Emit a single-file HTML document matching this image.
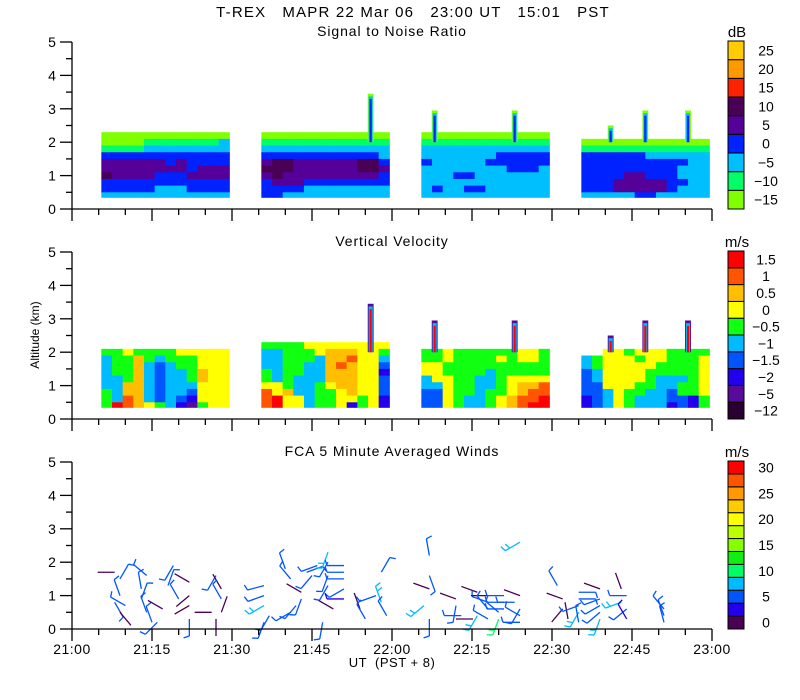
<!DOCTYPE html>
<html><head><meta charset="utf-8"><style>
body{margin:0;background:#fff;}
svg{display:block;font-family:"Liberation Sans",sans-serif;}
text{white-space:pre;}
</style></head><body>
<svg id="c" width="800" height="700" viewBox="0 0 800 700"></svg>
<script>
// ---- data ----
const xTickLabels=["21:00","21:15","21:30","21:45","22:00","22:15","22:30","22:45","23:00"];
const segStarts=[5.5,35.5,65.5,95.5];
const rowCenters=[2.2,2.0,1.8,1.6,1.4,1.2,1.0,0.8,0.6,0.4];
const snrLabels=["25","20","15","10","5","0","-5","-10","-15"];
const snrColors=["#7fff00","#00ff66","#00bfff","#0022ff","#550099","#4a0055","#ff2200","#ff9900","#ffcc00"];
const velLabels=["1.5","1","0.5","0","-0.5","-1","-1.5","-2","-5","-12"];
const velColors=["#2a0030","#5a0a9a","#2200ee","#0055ff","#00bbff","#11ff11","#ffff00","#ffbf00","#ff5500","#ff0000"];
const windLabels=["30","25","20","15","10","5","0"];
const windColors=["#4a0055","#2200ee","#0055ff","#00bbff","#00ff66","#11ee11","#88ff00","#bbff00","#ffff00","#ffcc00","#ff9900","#ff5500","#ff0000"];
const snrSeg1=["000000000000","000011111112","111122222222","333333333333","444444343333","444444443444","544443334444","333333333333","333332223333","222222222222"];
const snrSeg2=["000000000000","111111111111","222222222222","333333333332","455444444553","555444444554","454444444443","344433333333","333322222222","332222222222"];
const snrSeg3=["000000000000","111111111111","222222222222","222222233333","322222333333","222222223332","222332222222","222222222222","232233222222","222222222222"];
const snrSeg4=["............","000000000000","111111111111","333333222222","333333333322","333333333222","333344333222","333444443322","333444443222","222223322222"];
const velSeg1=["............","556555566666","455754555666","455743455666","455743445766","445743445766","447743444666","547743443666","548743432666","598765421566"];
const velSeg2=["555566666666","445556777665","445554778664","445544787663","545544777662","545444777663","665445677663","867445567663","896645566562","896645562562"];
const velSeg3=["............","556555555665","556555565665","665555555555","665555455555","466554456666","446554456778","336554556788","336544567889","336544567899"];
const velSeg4=["............","..6656665555","456665665556","456666655556","346666555556","346666544456","336665544556","334655443556","234654443325","234654442325"];
const spikeTimes=[56,68,83,101,107.5,115.5];
const spikeTops=[3.45,2.95,2.95,2.5,2.95,2.95];
const barbT=[8,9,9,8,10,9,14,13,13,14,15,19,18,20,17,16,22,22,22,23,22,27,28,28,28,27,36,36,36,37,36,40,41,43,42,41,44,45,46,43,48,48,48,48,49,47,51,51,51,51,51,54,55,58,57,58,59,67,67,67,66,67,72,72,73,72,76,78,78,78,76,78,81,81,81,80,80,84,84,83,84,84,84,91,92,92,93,95,95,95,95,95,99,99,99,99,99,103,104,103,104,104,111,111,111];
const barbA=[1.7,1.5,1.0,0.8,0.7,0.5,1.6,1.2,0.9,0.5,0.2,1.9,1.3,0.9,0.6,0.2,1.4,1.0,0.7,0.5,0.3,1.6,1.2,0.9,0.5,0.3,1.3,1.0,0.7,0.4,0.2,1.8,1.5,1.1,0.7,0.5,1.7,1.6,1.9,0.9,2.3,2.0,1.6,1.3,0.6,0.2,1.9,1.7,1.5,1.2,0.9,0.6,0.3,1.7,1.0,0.8,0.4,2.2,1.6,1.2,0.7,0.3,0.9,0.7,0.4,0.3,1.1,0.8,1.0,0.6,0.4,0.3,1.0,0.8,0.6,0.5,0.3,2.6,1.0,0.8,0.6,0.4,0.2,1.3,0.9,0.6,0.3,1.1,0.9,0.7,0.5,0.2,1.2,0.9,0.7,0.5,0.3,1.2,1.0,0.8,0.6,0.3,0.6,0.4,0.2];
const barbDir=[270,30,340,150,300,140,310,350,20,340,340,210,20,330,300,225,300,230,240,90,180,210,330,330,20,180,255,250,240,210,200,340,320,300,220,240,70,220,250,200,200,210,200,210,300,190,270,270,270,240,270,340,330,30,250,340,330,350,160,290,230,180,290,190,270,90,290,290,270,320,210,300,270,270,270,310,200,240,290,270,210,300,270,330,290,220,350,90,90,250,210,350,290,250,240,230,200,340,270,250,230,330,320,340,345];
const barbSpd=[2,5,5,5,6,2,6,5,5,5,6,6,5,5,2,5,2,2,2,2,5,5,2,5,2,2,6,6,9,5,5,5,6,2,5,5,6,6,6,5,8,6,6,5,2,5,5,5,5,5,3,2,5,5,5,8,5,5,5,2,8,5,2,5,5,2,2,5,2,5,8,5,5,5,5,5,12,8,2,5,5,5,5,5,2,2,2,5,5,5,8,5,2,5,5,5,8,2,5,9,5,3,5,5,5];

// ---- helpers ----
const svg=document.getElementById('c');
const NS="http://www.w3.org/2000/svg";
function mk(tag,attrs,parent){const e=document.createElementNS(NS,tag);for(const k in attrs)e.setAttribute(k,attrs[k]);(parent||svg).appendChild(e);return e;}
const X0=72,X1=712;
function xs(m){return X0+(X1-X0)*m/120;}
const panelBase=[209,419,629];
function ys(p,a){return panelBase[p]-a*33.4;}

mk('text',{x:413,y:17,'text-anchor':'middle','font-size':15,'letter-spacing':'1.2',fill:'#000',}).textContent="T-REX   MAPR 22 Mar 06   23:00 UT   15:01   PST";
const ptitles=["Signal to Noise Ratio","Vertical Velocity","FCA 5 Minute Averaged Winds"];
const pnames=["snr-panel-title","velocity-panel-title","winds-panel-title"];

function drawGrid(p,segs,colors,name){
  const g=mk('g',{});
  segs.forEach((seg,si)=>{
    seg.forEach((row,ri)=>{
      const h=rowCenters[ri];
      let lo=h-0.1,hi=h+0.1; if(ri===rowCenters.length-1)lo=0.35;
      for(let ci=0;ci<row.length;ci++){
        const ch=row[ci]; if(ch==='.')continue;
        const t0=segStarts[si]+ci*2;
        const r=mk('rect',{x:xs(t0),y:ys(p,hi),width:xs(t0+2)-xs(t0)+0.5,height:ys(p,lo)-ys(p,hi)+0.5,fill:colors[+ch]},g);
        
        
      }
    });
  });
  return g;
}
function drawSpikes(p,cols,name){
  const g=mk('g',{});
  spikeTimes.forEach((t,i)=>{
    const top=spikeTops[i];
    cols.forEach((c,k)=>{
      const w=1.1-k*0.35;
      const r=mk('rect',{x:xs(t-w/2),y:ys(p,top-k*0.08),width:xs(t+w/2)-xs(t-w/2),height:ys(p,2.0)-ys(p,top-k*0.08),fill:c},g);
      
      
    });
  });
}
drawGrid(0,[snrSeg1,snrSeg2,snrSeg3,snrSeg4],snrColors,'snr-heatmap');
drawSpikes(0,["#7fff00","#00bfff","#0022ff"],'snr-spikes');
drawGrid(1,[velSeg1,velSeg2,velSeg3,velSeg4],velColors,'velocity-heatmap');
drawSpikes(1,["#5a0a9a","#00bbff","#ff0000"],'velocity-spikes');

// winds barbs
const bg=mk('g',{});
barbT.forEach((t,i)=>{
  const x=xs(t),y=ys(2,barbA[i]),d=barbDir[i]*Math.PI/180,L=17;
  const ex=x+L*Math.sin(d),ey=y-L*Math.cos(d);
  const ci=Math.min(windColors.length-1,Math.floor(barbSpd[i]/2.5));
  const col=windColors[ci];
  const l=mk('line',{x1:x,y1:y,x2:ex,y2:ey,stroke:col,'stroke-width':1.3},bg);
  
  
  const n=barbSpd[i]>=7.5?2:(barbSpd[i]>=2.5?1:0);
  for(let k=0;k<n;k++){
    const f=1-k*0.3;
    const bx=x+L*f*Math.sin(d),by=y-L*f*Math.cos(d);
    const bd=d+Math.PI*0.4;
    const fl=mk('line',{x1:bx,y1:by,x2:bx+6*Math.sin(bd),y2:by-6*Math.cos(bd),stroke:col,'stroke-width':1.3},bg);
    
    
  }
});

// axes
for(let p=0;p<3;p++){
  const base=panelBase[p];
  const ax=mk('g',{stroke:'#000','stroke-width':1.3});
  mk('line',{x1:X0,y1:base,x2:X0,y2:ys(p,5)},ax);
  mk('line',{x1:X0,y1:base,x2:X1,y2:base},ax);
  for(let k=0;k<=10;k++){const y=ys(p,k/2);mk('line',{x1:X0-(k%2?6:12),y1:y,x2:X0,y2:y},ax);}
  for(let m=0;m<=120;m+=5){const x=xs(m);mk('line',{x1:x,y1:base,x2:x,y2:base+(m%15?6:12)},ax);}
  for(let k=0;k<=5;k++){const t=mk('text',{x:52,y:ys(p,k)+5,'text-anchor':'middle','font-size':14,fill:'#000'});t.textContent=k;}
  mk('text',{x:392,y:36+210*p,'text-anchor':'middle','font-size':14,'letter-spacing':'0.9',fill:'#000',}).textContent=ptitles[p];
}
xTickLabels.forEach((s,i)=>{const t=mk('text',{x:xs(i*15),y:654,'text-anchor':'middle','font-size':14,'letter-spacing':'0.5',fill:'#000'});t.textContent=s;});
mk('text',{x:392,y:667,'text-anchor':'middle','font-size':13,'letter-spacing':'0.5',fill:'#000',}).textContent="UT  (PST + 8)";
mk('text',{x:39,y:335,'text-anchor':'middle','font-size':12,fill:'#000',transform:'rotate(-90 39 335)',}).textContent="Altitude (km)";

// colorbars
function colorbar(top,bot,colors,labels,unit,name,labelIdx){
  const g=mk('g',{});
  const n=colors.length,h=(bot-top)/n;
  for(let i=0;i<n;i++){
    const r=mk('rect',{x:728,y:bot-(i+1)*h,width:16,height:h,fill:colors[i],stroke:'#000','stroke-width':1},g);
    
    
  }
  labels.forEach((s,i)=>{
    const bi=labelIdx(i);
    const t=mk('text',{x:766,y:bot-(bi+0.5)*h+5,'text-anchor':'middle','font-size':14,fill:'#000'},g);
    t.textContent=s.replace('-','\u2212');
    
    
  });
  const u=mk('text',{x:737,y:top-4,'text-anchor':'middle','font-size':15,fill:'#000'},g);
  u.textContent=unit;
  
  
}
colorbar(41,209,snrColors,snrLabels,'dB','snr-colorbar',i=>snrLabels.length-1-i);
colorbar(251,419,velColors,velLabels,'m/s','velocity-colorbar',i=>velLabels.length-1-i);
colorbar(461,629,windColors,windLabels,'m/s','winds-colorbar',i=>(windLabels.length-1-i)*2);
</script>
</body></html>
